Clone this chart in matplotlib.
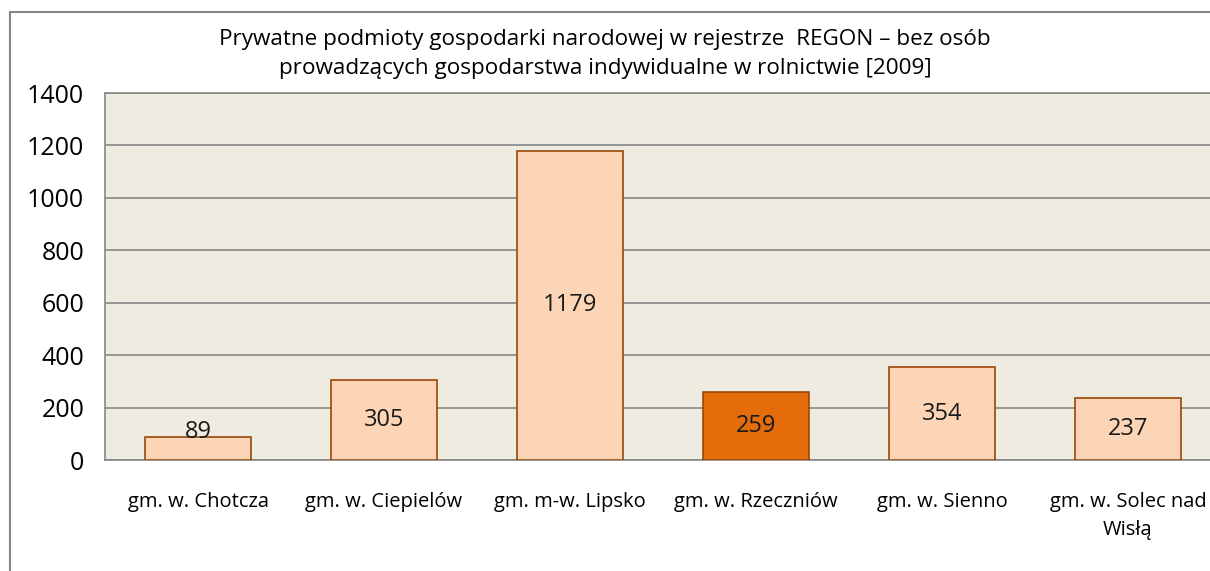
import matplotlib.pyplot as plt
from matplotlib.patches import Rectangle

categories = ['gm. w. Chotcza', 'gm. w. Ciepielów', 'gm. m-w. Lipsko',
              'gm. w. Rzeczniów', 'gm. w. Sienno', 'gm. w. Solec nad\nWisłą']
values = [89, 305, 1179, 259, 354, 237]
highlight = 'gm. w. Rzeczniów'
yticks = [0, 200, 400, 600, 800, 1000, 1200, 1400]

plt.rcParams['font.family'] = ['Open Sans', 'DejaVu Sans']

fig = plt.figure(figsize=(12.1, 5.71), dpi=100)
W, H = 1210, 571

# outer chart border (cut off on right and bottom like the source)
fig.patches.append(Rectangle((10 / W, -0.1), 1.2, 1 - 12 / H + 0.1,
                             transform=fig.transFigure, fill=False,
                             edgecolor='#868686', linewidth=1.5))

ax = fig.add_axes([105 / W, 1 - 460 / H, (6 * 186) / W, 367 / H])
ax.set_facecolor('#EEECE1')

x = range(len(categories))
colors = ['#E46C0A' if c == highlight else '#FBD5B5' for c in categories]
ax.bar(x, values, width=0.575, color=colors, edgecolor='#984807',
       linewidth=1.2, zorder=3)

for i, v in zip(x, values):
    ax.text(i, max(v / 2, 107), str(v), ha='center', va='center',
            fontsize=17, color='#1a1a1a', zorder=4)

ax.set_xlim(-0.5, len(categories) - 0.5)
ax.set_ylim(0, 1400)
ax.set_yticks(yticks)
ax.set_xticks(list(x))
ax.set_xticklabels(categories, fontsize=14.5, linespacing=1.55)
ax.tick_params(axis='y', length=0, labelsize=18, pad=15)
ax.tick_params(axis='x', length=0, pad=23)
ax.grid(axis='y', color='#868686', linewidth=1.2, zorder=1)
ax.set_axisbelow(True)
for s in ['top', 'left', 'bottom']:
    ax.spines[s].set_color('#868686')
    ax.spines[s].set_linewidth(1.2)
ax.spines['right'].set_visible(False)

fig.text(605 / W, 1 - 54 / H,
         'Prywatne podmioty gospodarki narodowej w rejestrze  REGON – bez osób\n'
         'prowadzących gospodarstwa indywidualne w rolnictwie [2009]',
         ha='center', va='center', fontsize=16.2, linespacing=1.5)

fig.savefig('out.png', dpi=100)
